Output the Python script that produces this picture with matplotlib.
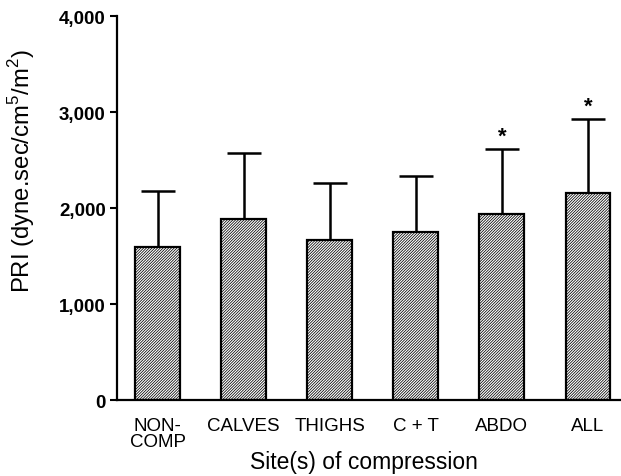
import numpy as np
import matplotlib
matplotlib.use("Agg")
import matplotlib.pyplot as plt

plt.rcParams['font.family'] = ['Liberation Sans', 'DejaVu Sans']
plt.rcParams['mathtext.fontset'] = 'custom'
plt.rcParams['mathtext.rm'] = 'Liberation Sans'
plt.rcParams['hatch.linewidth'] = 0.55

sites = ["NON-\nCOMP", "CALVES", "THIGHS", "C + T", "ABDO", "ALL"]
pri_mean = [1600, 1885, 1665, 1755, 1940, 2155]
pri_sd = [575, 690, 600, 580, 680, 770]
significant = [False, False, False, False, True, True]

fig = plt.figure(figsize=(6.21, 4.77), dpi=100)
ax = fig.add_axes([0.188, 0.159, 0.81, 0.805])

x = np.arange(len(sites))
ax.bar(x, pri_mean, width=0.52, color='white', edgecolor='black',
       linewidth=1.6, hatch='/' * 12, zorder=2)
ax.errorbar(x, pri_mean, yerr=[np.zeros(len(x)), pri_sd], fmt='none',
            ecolor='black', elinewidth=1.8, capsize=12, capthick=1.8, zorder=1)

for xi, m, s, sig in zip(x, pri_mean, pri_sd, significant):
    if sig:
        ax.text(xi, m + s + 25, '*', ha='center', va='bottom',
                fontsize=16, fontweight='bold')

ax.set_xlim(-0.475, 0.37 + len(sites) - 1)
ax.set_ylim(0, 4000)
ax.set_yticks([0, 1000, 2000, 3000, 4000])
ax.set_yticklabels(['0', '1,000', '2,000', '3,000', '4,000'],
                   fontsize=13.5, fontweight='bold')
ax.set_xticks(x)
ax.set_xticklabels(sites, fontsize=13.5, linespacing=0.95)
ax.tick_params(axis='x', length=0, pad=12)
ax.tick_params(axis='y', length=5, width=1.5, pad=3)

for side in ['top', 'right']:
    ax.spines[side].set_visible(False)
ax.spines['left'].set_linewidth(1.6)
ax.spines['bottom'].set_linewidth(1.6)

# axis titles placed in figure coordinates
fig.text(364 / 621, 1 - 463 / 477, 'Site(s) of compression',
         fontsize=16.5, ha='center', va='center')
fig.text(22 / 621, 1 - 171 / 477, r'PRI (dyne.sec/cm$^5$/m$^2$)',
         fontsize=17.2, ha='center', va='center', rotation=90)

fig.savefig('out.png', dpi=100)
